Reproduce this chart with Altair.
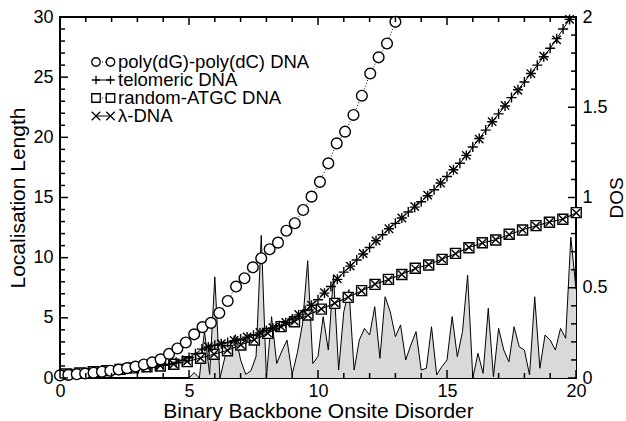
import altair as alt
import pandas as pd

FONT = "Liberation Sans"
W, H = 516, 361

# ---------------- data ----------------
# poly(dG)-poly(dC) DNA (circles)
circ_x = [round(k * 0.325, 3) for k in range(41)]
circ_y = [0.22, 0.26, 0.31, 0.37, 0.44, 0.52, 0.6, 0.7, 0.82, 0.95, 1.12, 1.3, 1.55, 2.0, 2.45,
          2.95, 3.63, 4.23, 4.58, 5.4, 6.4, 7.6, 8.29, 9.2, 9.95, 10.7, 11.25, 12.24, 12.86,
          13.96, 15.07, 16.3, 17.84, 19.5, 20.47, 21.86, 23.46, 25.3, 26.65, 27.8, 29.6]

# telomeric DNA (+)
tel_x = [k * 0.25 for k in range(80)]
tel_y = [0.30, 0.33, 0.36, 0.40, 0.45, 0.49, 0.53, 0.57, 0.62, 0.67, 0.72, 0.77, 0.82, 0.87,
         0.93, 0.99, 1.05, 1.15, 1.30, 1.48, 1.70, 2.02, 2.40, 2.58, 2.72, 2.84, 2.95, 3.10,
         3.25, 3.40, 3.55, 3.75, 3.95, 4.15, 4.35, 4.60, 4.90, 5.25, 5.60, 6.05, 6.50, 7.05,
         7.60, 8.20, 8.80, 9.30, 9.80, 10.30, 10.85, 11.40, 11.90, 12.40, 12.85, 13.30, 13.80,
         14.20, 14.65, 15.15, 15.65, 16.20, 16.75, 17.30, 17.85, 18.50, 19.20, 19.90, 20.60,
         21.30, 21.95, 22.60, 23.30, 23.95, 24.60, 25.30, 26.00, 26.70, 27.40, 28.20, 29.00,
         29.80]

# further x-marked points lying on the telomeric curve
tel2_x = [5.75 + k * 0.5 for k in range(29)]
tel2_y = [2.6, 2.86, 3.12, 3.42, 3.78, 4.18, 4.62, 5.28, 6.05, 7.1, 8.25, 9.3, 10.35, 11.4,
          12.4, 13.3, 14.25, 15.2, 16.2, 17.3, 18.5, 19.85, 21.3, 22.65, 23.9, 25.3, 26.75,
          28.1, 29.8]

# random-ATGC DNA (squares) and lambda-DNA (x)
rnd_x = [round(0.25 + k * 0.52, 2) for k in range(39)]
rnd_y = [0.33, 0.42, 0.52, 0.61, 0.72, 0.84, 0.94, 1.0, 1.14, 1.36, 1.64, 1.97, 2.27, 2.74,
         3.16, 3.71, 4.27, 4.68, 5.24, 5.72, 6.2, 6.7, 7.26, 7.78, 8.2, 8.6, 9.12, 9.39, 9.86,
         10.36, 10.83, 11.24, 11.47, 11.94, 12.3, 12.66, 12.94, 13.19, 13.74]
lam_y = [0.32, 0.41, 0.51, 0.6, 0.71, 0.83, 0.93, 1.02, 1.16, 1.38, 1.66, 1.98, 2.3, 2.76,
         3.18, 3.72, 4.25, 4.7, 5.22, 5.74, 6.22, 6.72, 7.24, 7.8, 8.18, 8.62, 9.1, 9.42, 9.88,
         10.33, 10.85, 11.22, 11.5, 11.92, 12.32, 12.64, 12.96, 13.2, 13.72]

# density of states (right axis)
dos_x = [round(k * 0.2, 1) for k in range(101)]
dos_y = [0.0] * 25 + [
    0.0, 0.03, 0.0, 0.26, 0.02, 0.56, 0.0, 0.12, 0.18, 0.24, 0.1, 0.02, 0.04, 0.12, 0.79,
    0.0, 0.34, 0.08, 0.15, 0.21, 0.02, 0.14, 0.3, 0.65, 0.08, 0.12, 0.34, 0.155, 0.57,
    0.044, 0.367, 0.49, 0.044, 0.21, 0.275, 0.238, 0.395, 0.109, 0.45, 0.367, 0.229, 0.294,
    0.1, 0.183, 0.257, 0.044, 0.054, 0.284, 0.017, 0.063, 0.1, 0.34, 0.118, 0.257, 0.57,
    0.0, 0.137, 0.026, 0.386, 0.007, 0.275, 0.155, 0.09, 0.284, 0.173, 0.155, 0.017, 0.45,
    0.054, 0.238, 0.21, 0.155, 0.275, 0.22, 0.78, 0.49]

# axis ticks
x_major = [0, 5, 10, 15, 20]
x_minor = [v for v in range(21) if v % 5]
y_major = [0, 5, 10, 15, 20, 25, 30]
y_minor = [v for v in range(31) if v % 5]
dos_major = [0, 0.5, 1, 1.5, 2]
dos_minor = [0.1, 0.2, 0.3, 0.4, 0.6, 0.7, 0.8, 0.9, 1.1, 1.2, 1.3, 1.4, 1.6, 1.7, 1.8, 1.9]

# legend
leg_labels = ["poly(dG)-poly(dC) DNA", "telomeric DNA", "random-ATGC DNA", "λ-DNA"]
PLUS = "M-1,0L1,0M0,-1L0,1"
XMARK = "M-1,-1L1,1M1,-1L-1,1"
leg_shapes = ["circle", PLUS, "square", XMARK]
leg_dotted = [True, False, True, False]

# ---------------- frames ----------------
def xy(xv, yv):
    return pd.DataFrame({"x": xv, "y": yv})

df_circ = xy(circ_x, circ_y)
df_tel = xy(tel_x, tel_y)
df_tel2 = xy(tel2_x, tel2_y)
df_rnd = xy(rnd_x, rnd_y)
df_lam = xy(rnd_x, lam_y)
df_dos = pd.DataFrame({"x": dos_x, "dos": dos_y})
df_leg = pd.DataFrame({"row": list(range(4)), "label": leg_labels, "shape": leg_shapes,
                       "dotted": leg_dotted})

xs = alt.Scale(domain=[0, 20], nice=False, zero=False)
ys = alt.Scale(domain=[0, 30], nice=False)
ds = alt.Scale(domain=[0, 2], nice=False)

x_axis = alt.Axis(values=x_major, format="d", ticks=False, domain=False, grid=False,
                  labelPadding=4, labelFlush=False, labelOverlap=False,
                  title="Binary Backbone Onsite Disorder", titlePadding=0)
y_axis = alt.Axis(values=y_major, format="d", ticks=False, domain=False, grid=False,
                  labelPadding=7, labelFlush=False, labelOverlap=False,
                  title="Localisation Length", titlePadding=4)
d_axis = alt.Axis(orient="right", values=dos_major, format="~g", ticks=False, domain=False,
                  grid=False, labelPadding=6, labelFlush=False, labelOverlap=False,
                  title="DOS", titlePadding=0, titleAngle=270, titleBaseline="top",
                  titleFontSize=19)

X = alt.X("x:Q", scale=xs, axis=x_axis)
Y = alt.Y("y:Q", scale=ys, axis=y_axis)

# ---------------- DOS group (right axis) ----------------
dos_area = alt.Chart(df_dos).mark_area(color="#d9d9d9", opacity=1).encode(
    x=X, y=alt.Y("dos:Q", scale=ds, axis=d_axis))
dos_line = alt.Chart(df_dos).mark_line(color="black", strokeWidth=1).encode(
    x=X, y=alt.Y("dos:Q", scale=ds, axis=d_axis))
rt_major = alt.Chart(pd.DataFrame({"v": dos_major})).mark_rule(color="black", strokeWidth=1.5).encode(
    y=alt.Y("v:Q", scale=ds, axis=d_axis), x=alt.value(W), x2=alt.value(W - 8))
rt_minor = alt.Chart(pd.DataFrame({"v": dos_minor})).mark_rule(color="black", strokeWidth=1.5).encode(
    y=alt.Y("v:Q", scale=ds, axis=d_axis), x=alt.value(W), x2=alt.value(W - 5))
dos_group = alt.layer(dos_area, dos_line, rt_major, rt_minor)

# ---------------- curves (left axis) ----------------
def line(df, dash=None):
    kw = dict(color="black", strokeWidth=1)
    if dash:
        kw["strokeDash"] = dash
    return alt.Chart(df).mark_line(**kw).encode(x=X, y=Y)

def pts(df, shape, size, fill=None):
    kw = dict(shape=shape, size=size, stroke="black", strokeWidth=1.4, opacity=1)
    if fill:
        kw.update(filled=True, fill=fill)
    else:
        kw.update(filled=False)
    return alt.Chart(df).mark_point(**kw).encode(x=X, y=Y)

curves = [
    line(df_rnd, [1, 2]), pts(df_rnd, "square", 100, "white"),
    line(df_lam), pts(df_lam, XMARK, 60),
    line(df_tel), pts(df_tel, PLUS, 100), pts(df_tel2, XMARK, 70),
    line(df_circ, [1, 2]), pts(df_circ, "circle", 115, "white"),
]

def hticks(vals, length):
    return alt.Chart(pd.DataFrame({"v": vals})).mark_rule(color="black", strokeWidth=1.5).encode(
        y=alt.Y("v:Q", scale=ys, axis=y_axis), x=alt.value(0), x2=alt.value(length))

def vticks(vals, length, bottom):
    y0 = H if bottom else 0
    y1 = H - length if bottom else length
    return alt.Chart(pd.DataFrame({"v": vals})).mark_rule(color="black", strokeWidth=1.5).encode(
        x=alt.X("v:Q", scale=xs, axis=x_axis), y=alt.value(y0), y2=alt.value(y1))

ticks = [hticks(y_major, 8), hticks(y_minor, 5),
         vticks(x_major, 8, True), vticks(x_minor, 5, True),
         vticks(x_major, 8, False), vticks(x_minor, 5, False)]

left_group = alt.layer(*curves, *ticks)

# ---------------- legend ----------------
leg_base = alt.Chart(df_leg).transform_calculate(ly="45 + 18 * datum.row")
LY = alt.Y("ly:Q", scale=None)
M1, M2, TX = 36, 50.5, 58
leg_solid = leg_base.transform_filter("!datum.dotted").mark_rule(color="black", strokeWidth=1).encode(
    y=LY, x=alt.value(M1), x2=alt.value(M2))
leg_dot = leg_base.transform_filter("datum.dotted").mark_rule(
    color="black", strokeWidth=1, strokeDash=[1, 2]).encode(y=LY, x=alt.value(M1), x2=alt.value(M2))
leg_m1 = leg_base.mark_point(filled=True, fill="white", stroke="black", strokeWidth=1.3,
                             size=72, opacity=1).encode(
    y=LY, x=alt.value(M1), shape=alt.Shape("shape:N", scale=None))
leg_m2 = leg_base.mark_point(filled=True, fill="white", stroke="black", strokeWidth=1.3,
                             size=72, opacity=1).encode(
    y=LY, x=alt.value(M2), shape=alt.Shape("shape:N", scale=None))
leg_txt = leg_base.mark_text(align="left", baseline="middle", font=FONT, fontSize=18.5,
                             color="black").encode(y=LY, x=alt.value(TX), text="label:N")
legend_group = alt.layer(leg_solid, leg_dot, leg_m1, leg_m2, leg_txt)

chart = alt.layer(dos_group, left_group, legend_group).resolve_scale(
    y="independent"
).properties(
    width=W, height=H,
    autosize=alt.AutoSizeParams(type="none"),
    padding={"left": 60, "top": 17, "right": 50, "bottom": 43},
).configure_view(
    stroke="black", strokeWidth=2
).configure_axis(
    labelFont=FONT, titleFont=FONT, labelFontSize=18, titleFontSize=21,
    titleFontWeight="normal", labelColor="black", titleColor="black"
)

chart.save("out.html", embed_options={"renderer": "svg", "actions": False})
